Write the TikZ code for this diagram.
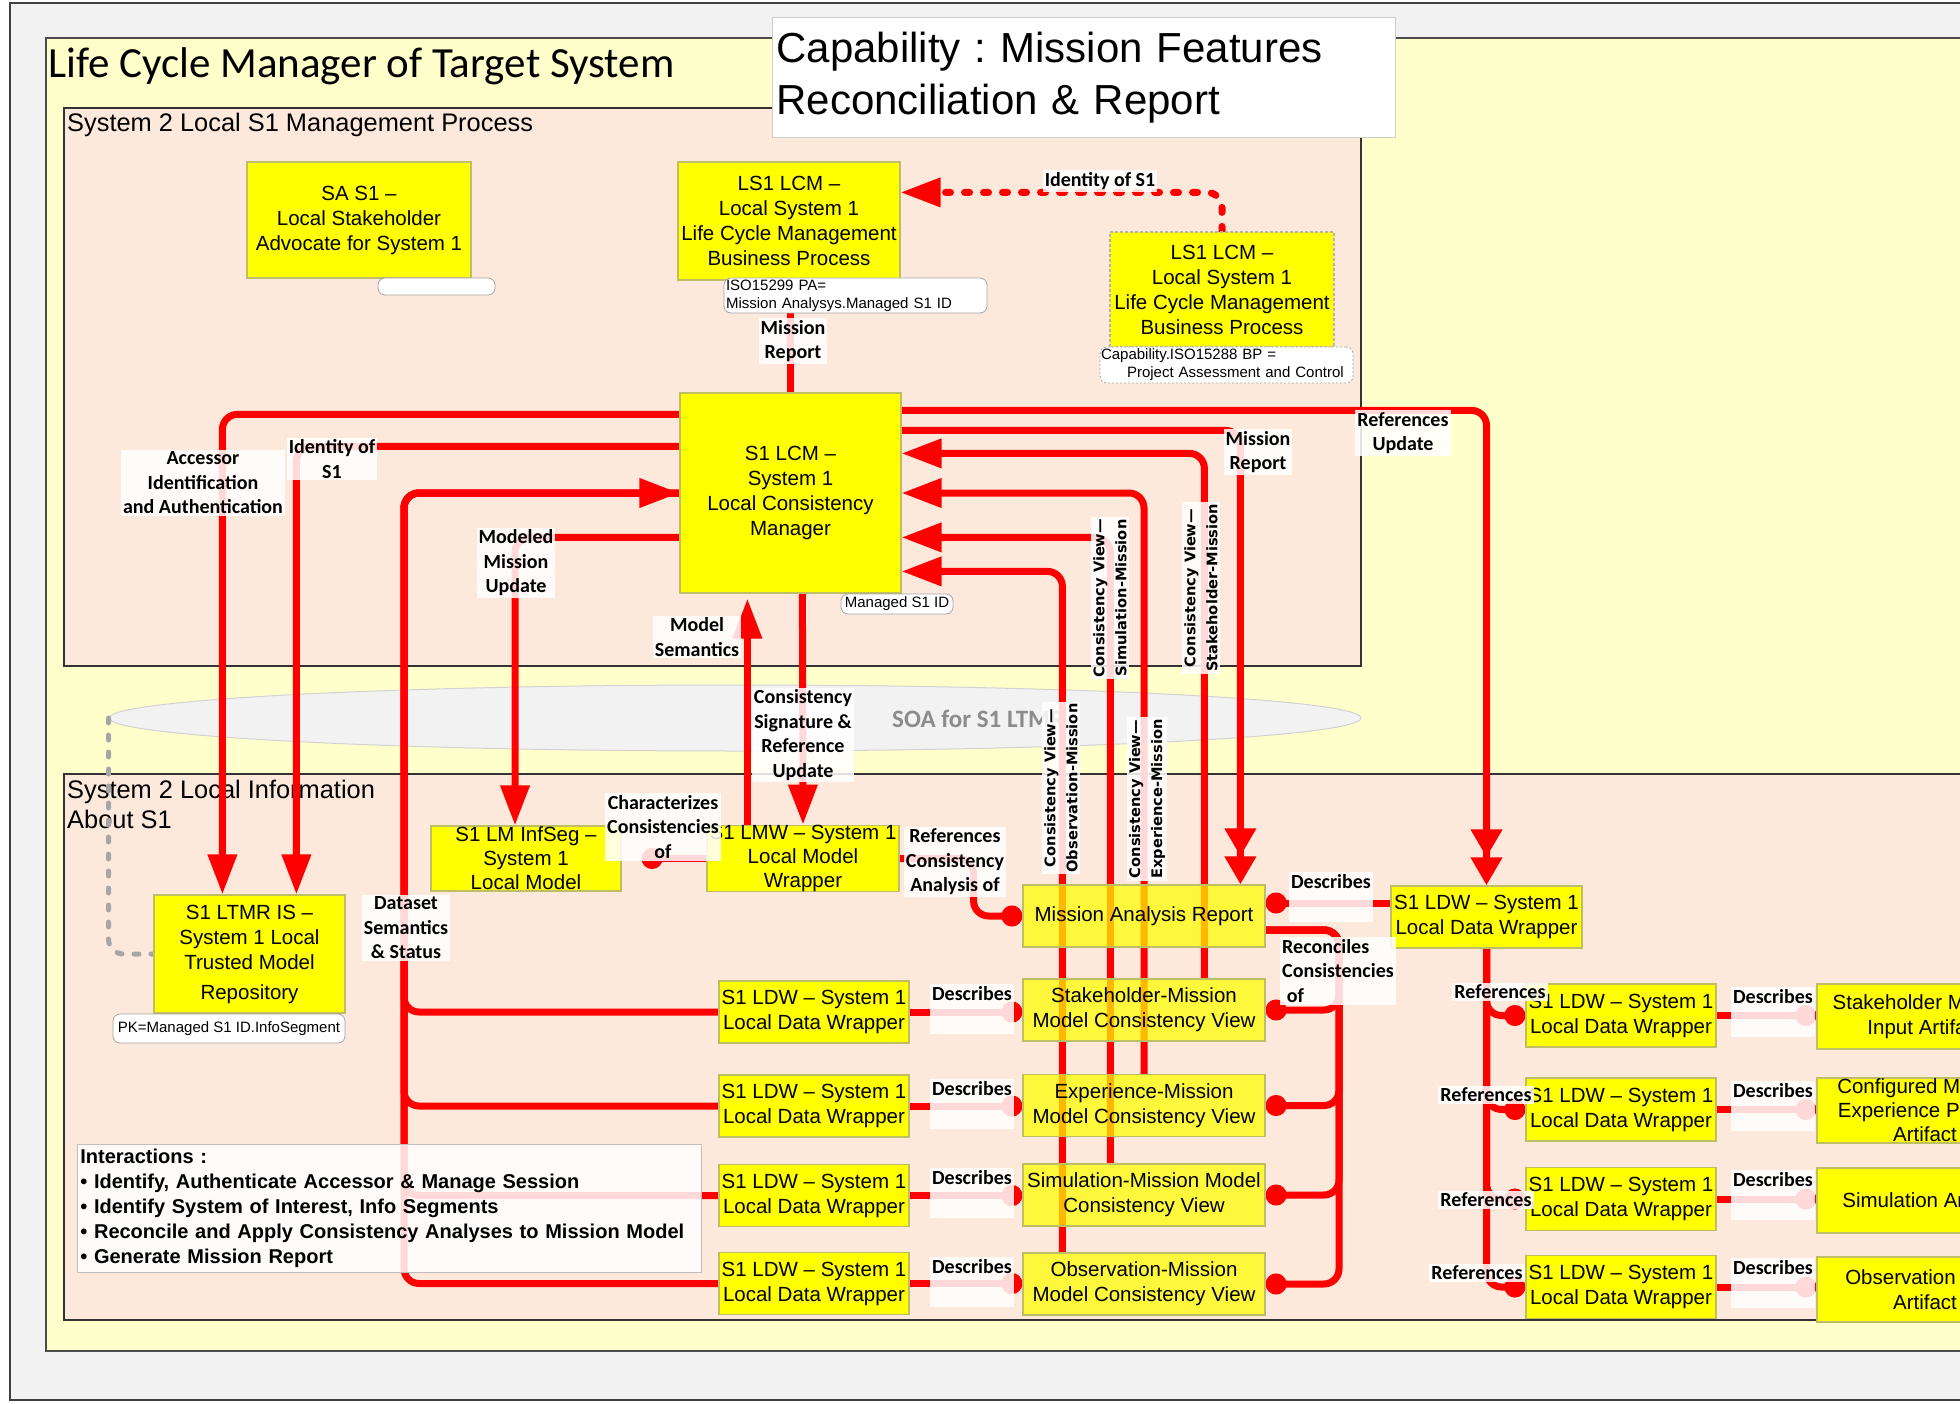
\documentclass[tikz,border=0pt]{standalone}
\usepackage{fontspec}
\setmainfont{Liberation Sans}
\newfontfamily\carl{Carlito}
\newfontfamily\dvs{DejaVu Sans}
\usetikzlibrary{arrows.meta,calc,shapes.geometric}
\frenchspacing
\definecolor{bggray}{RGB}{242,242,242}
\definecolor{frameY}{RGB}{255,255,204}
\definecolor{peach}{RGB}{252,233,220}
\definecolor{boxY}{RGB}{255,255,0}
\definecolor{boxB}{RGB}{190,190,100}
\definecolor{rd}{RGB}{255,0,0}
\definecolor{dashG}{RGB}{166,166,166}
\definecolor{soaT}{RGB}{140,140,140}
\pgfdeclarelayer{bg}\pgfdeclarelayer{lines}\pgfdeclarelayer{top}
\pgfsetlayers{bg,lines,main,top}
\newcommand\bxfont{\fontsize{20.5}{25}\selectfont}
\newcommand\bxfontt{\fontsize{20.5}{24}\selectfont}
\newcommand\lbfont{\carl\bfseries\fontsize{20}{24.5}\selectfont}
\newcommand\tgfont{\fontsize{15}{18}\selectfont}
\newcommand\vfont{\dvs\bfseries\fontsize{14.6}{22}\selectfont}
\newcommand\fitl[1]{\makebox[170pt]{#1}}
\tikzset{
  ybox/.style={draw=boxB, line width=1.2pt, fill=boxY, inner sep=0pt, align=center, font=\bxfont},
  vbox/.style={ybox, fill opacity=0.72, text opacity=1},
  lbl/.style={fill=white, fill opacity=0.85, text opacity=1, inner sep=2pt, align=center, font=\lbfont},
  desc/.style={lbl, anchor=north, minimum width=80pt},
  vlbl/.style={lbl, rotate=90, font=\vfont},
  tag/.style={draw=gray!70, line width=0.8pt, fill=white, rounded corners=7pt, inner sep=0pt, font=\tgfont, align=left},
  rl/.style={draw=rd, line width=7pt, rounded corners=15pt},
  arr/.style={-{Triangle[length=40pt,width=28pt]}},
  darr/.style={-{Triangle[length=28pt,width=30pt]Triangle[length=28pt,width=30pt]}},
  dotE/.style={-{Circle[length=21pt]}},
  dotS/.style={{Circle[length=21pt]}-},
  idd/.style={dash pattern=on 5pt off 14pt, line cap=round}
}
\begin{document}
\begin{tikzpicture}[x=1pt,y=-1pt]
\useasboundingbox (0,0) rectangle (1960,1404);
\begin{pgfonlayer}{bg}
\fill[white] (0,0) rectangle (1960,1404);
\draw[fill=bggray, draw=black!75, line width=1.5pt] (10,3) rectangle (1990,1400);
\draw[fill=frameY, draw=black!70, line width=2pt] (46,38) rectangle (1990,1351);
\node[anchor=base west, font=\carl\fontsize{43}{50}\selectfont, inner sep=0pt] (ttl) at (48,78) {Life Cycle Manager of Target System};
\draw[fill=peach, draw=black!80, line width=1.8pt] (64,108) rectangle (1361,666);
\node[anchor=base west, font=\fontsize{25.4}{30}\selectfont, inner sep=0pt] (t1) at (67,132) {System 2 Local S1 Management Process};
\draw[fill=peach, draw=black!80, line width=1.8pt] (64,774) rectangle (1990,1320);
\node[anchor=base west, font=\fontsize{25.4}{30}\selectfont, inner sep=0pt] (t2a) at (67,798) {System 2 Local Information};
\node[anchor=base west, font=\fontsize{25.4}{30}\selectfont, inner sep=0pt] (t2b) at (67,828) {About S1};
\node[ellipse, fill=bggray, draw=gray!35, line width=1pt, minimum width=1252pt, minimum height=66pt, inner sep=0pt] (soa) at (735,718) {};
\node[anchor=base west, font=\carl\bfseries\fontsize{25}{30}\selectfont, text=soaT, inner sep=0pt] (soat) at (892,727) {SOA for S1 LTMR};
\end{pgfonlayer}

% title box
\node[draw=gray!40, line width=1pt, fill=white, anchor=north west, minimum width=623pt, minimum height=120pt, text width=615pt, inner xsep=3pt, inner ysep=0pt, align=left, font=\fontsize{42}{52}\selectfont] (cap) at (772,17) {Capability : Mission Features\\Reconciliation \& Report};

% boxes
\node[ybox, minimum width=224pt, minimum height=116pt] (SA) at (359,220) {SA S1 –\\Local Stakeholder\\Advocate for System 1};
\node[ybox, minimum width=222pt, minimum height=118pt] (LS1top) at (789,221) {LS1 LCM –\\Local System 1\\Life Cycle Management\\Business Process};
\node[ybox, draw=gray!60, dash pattern=on 3pt off 2pt, minimum width=224pt, minimum height=115pt] (LS1R) at (1222,289.5) {LS1 LCM –\\Local System 1\\Life Cycle Management\\Business Process};
\node[ybox, minimum width=221pt, minimum height=200pt] (LCM) at (790.5,493) {S1 LCM –\\System 1\\Local Consistency\\Manager};
\node[ybox, minimum width=191pt, minimum height=118pt] (LTMR) at (249.5,954) {S1 LTMR IS –\\System 1 Local\\Trusted Model\\[5pt]Repository};
\node[ybox, font=\bxfontt, minimum width=190pt, minimum height=65pt] (InfSeg) at (526,858.5) {S1 LM InfSeg –\\System 1\\Local Model};
\node[ybox, font=\bxfontt, minimum width=192pt, minimum height=65pt] (LMW) at (803,858.5) {\fitl{S1 LMW – System 1}\\Local Model\\Wrapper};

\node[vbox, minimum width=242pt, minimum height=62pt] (MAR) at (1144,916) {Mission Analysis Report};
\node[vbox, minimum width=242pt, minimum height=62pt] (SV) at (1144,1010) {Stakeholder-Mission\\Model Consistency View};
\node[vbox, minimum width=242pt, minimum height=62pt] (EV) at (1144,1105.5) {Experience-Mission\\Model Consistency View};
\node[vbox, minimum width=242pt, minimum height=62pt] (SimV) at (1144,1195) {Simulation-Mission Model\\Consistency View};
\node[vbox, minimum width=242pt, minimum height=62pt] (OV) at (1144,1284) {Observation-Mission\\Model Consistency View};

\node[ybox, minimum width=190pt, minimum height=62pt] (LDWL1) at (814,1012) {\fitl{S1 LDW – System 1}\\\fitl{Local Data Wrapper}};
\node[ybox, minimum width=190pt, minimum height=62pt] (LDWL2) at (814,1106) {\fitl{S1 LDW – System 1}\\\fitl{Local Data Wrapper}};
\node[ybox, minimum width=190pt, minimum height=62pt] (LDWL3) at (814,1195.5) {\fitl{S1 LDW – System 1}\\\fitl{Local Data Wrapper}};
\node[ybox, minimum width=190pt, minimum height=62pt] (LDWL4) at (814,1283.5) {\fitl{S1 LDW – System 1}\\\fitl{Local Data Wrapper}};
\node[ybox, minimum width=191pt, minimum height=62pt] (LDWT) at (1486.5,917) {\fitl{S1 LDW – System 1}\\\fitl{Local Data Wrapper}};
\node[ybox, minimum width=190pt, minimum height=63pt] (LDWR1) at (1621,1015.5) {\fitl{S1 LDW – System 1}\\\fitl{Local Data Wrapper}};
\node[ybox, minimum width=190pt, minimum height=63pt] (LDWR2) at (1621,1109.5) {\fitl{S1 LDW – System 1}\\\fitl{Local Data Wrapper}};
\node[ybox, minimum width=190pt, minimum height=63pt] (LDWR3) at (1621,1199) {\fitl{S1 LDW – System 1}\\\fitl{Local Data Wrapper}};
\node[ybox, minimum width=190pt, minimum height=63pt] (LDWR4) at (1621,1287) {\fitl{S1 LDW – System 1}\\\fitl{Local Data Wrapper}};
\node[ybox, minimum width=216pt, minimum height=65pt] (Art1) at (1925,1016.5) {Stakeholder Mission\\Input Artifact};
\node[ybox, font=\bxfontt, minimum width=216pt, minimum height=65pt] (Art2) at (1925,1110.5) {Configured Mission\\Experience Pattern\\Artifact};
\node[ybox, minimum width=216pt, minimum height=65pt] (Art3) at (1925,1200.5) {Simulation Artifact};
\node[ybox, minimum width=216pt, minimum height=65pt] (Art4) at (1925,1289.5) {Observation Data\\Artifact};

% tags
\node[tag, minimum width=117pt, minimum height=17pt] (emptyTag) at (436.5,286.5) {};
\node[tag, minimum width=263pt, minimum height=35pt, text width=259pt, inner xsep=2pt] (isoTag) at (855.5,295.5) {ISO15299 PA=\\Mission Analysys.Managed S1 ID};
\node[tag, dash pattern=on 2pt off 2pt, minimum width=253pt, minimum height=36pt, text width=251pt, inner xsep=1pt] (capTag) at (1226.5,365) {Capability.ISO15288 BP =\\\hspace*{26pt}Project Assessment and Control};
\node[tag, minimum width=112pt, minimum height=20pt, align=center] (msTag) at (897,604) {Managed S1 ID};
\node[tag, minimum width=232pt, minimum height=29pt, align=center] (pkTag) at (229,1028.5) {PK=Managed S1 ID.InfoSegment};

% connectors
\begin{pgfonlayer}{lines}
\draw[rl] (LCM.north) -- (LCM.north |- isoTag.south);
\draw[rl, idd, arr] (LS1R.north) |- ([yshift=-31pt]LS1top.north east);
\draw[rl, arr] ([yshift=-22pt]LCM.north west) -| ([xshift=69pt]LTMR.north west);
\draw[rl, arr] ([yshift=-54pt]LCM.north west) -| ([xshift=143pt]LTMR.north west);
\coordinate (busD) at (404,493);
\foreach \n in {LDWL2,LDWL3,LDWL4} \draw[rl] (\n.west) -| (busD) -- (LCM.west);
\draw[rl, arr] (LDWL1.west) -| (busD) -- (LCM.west);
\draw[rl, arr] ([yshift=-145pt]LCM.north west) -| ([xshift=-11pt]InfSeg.north);
\draw[rl, arr] ([xshift=41pt]LMW.north west) -- ([xshift=68pt,yshift=-5pt]LCM.south west);
\draw[rl, arr] ([xshift=123pt]LCM.south west) -- (LMW.north);
\draw[rl, darr] ([yshift=-18pt]LCM.north east) -| (LDWT.north);
\draw[rl, darr] ([yshift=-38pt]LCM.north east) -| ([xshift=218pt]MAR.north west);
\draw[rl, arr] ([xshift=182pt]SV.north west) |- ([yshift=-61pt]LCM.north east);
\draw[rl, arr] (EV.north) |- (LCM.east);
\draw[rl, arr] ([xshift=88pt]SimV.north west) |- ([yshift=-145pt]LCM.north east);
\draw[rl, arr] ([xshift=40pt]OV.north west) |- ([yshift=-179pt]LCM.north east);
\draw[rl, dotE] (LMW.west) -- ([xshift=20pt]InfSeg.east);
\draw[rl, dotE] (LMW.east) -- ++(74,0) |- (MAR.west);
\draw[rl, dotE] ([yshift=14pt]LDWT.west) -- ([yshift=13pt]MAR.east);
\coordinate (busR) at (1339,930);
\foreach \v in {SV,EV,SimV,OV} \draw[rl, dotS] (\v.east) -| (busR) -- ([yshift=-14pt]MAR.east);
\foreach \a/\b in {LDWL1/SV,LDWL2/EV,LDWL3/SimV,LDWL4/OV} \draw[rl, dotE] (\a.east) -- (\a.east -| \b.west);
\foreach \i in {1,2,3,4} \draw[rl, dotE] (LDWT.south) |- (LDWR\i.west);
\foreach \i in {1,2,3,4} \draw[rl, dotE] (LDWR\i.east) -- (LDWR\i.east -| Art\i.west);
\draw[dashG, line width=5pt, dash pattern=on 5pt off 12pt, line cap=round, rounded corners=15pt] (soa.west) |- (LTMR.west);
\end{pgfonlayer}

% labels
\begin{pgfonlayer}{top}
\node[lbl] (lIdTop) at (1100,181) {Identity of S1};
\node[lbl] (lMrTop) at (793,341) {Mission\\Report};
\node[lbl] (lAcc) at (203,483) {Accessor\\Identification\\and Authentication};
\node[lbl] (lId) at (332,459) {Identity of\\S1};
\node[lbl] (lMod) at (516,563) {Modeled\\Mission\\Update};
\node[lbl] (lSem) at (697,637) {Model\\Semantics};
\node[lbl] (lSig) at (803,735) {Consistency\\Signature \&\\Reference\\Update};
\node[lbl] (lMrR) at (1258,452) {Mission\\Report};
\node[lbl] (lRefU) at (1403,433) {References\\Update};
\node[lbl] (lChar) at (663,827) {Characterizes\\Consistencies\\of};
\node[lbl] (lRefC) at (955,862) {References\\Consistency\\Analysis of};
\node[lbl] (lData) at (406,928) {Dataset\\Semantics\\\& Status};
\node[lbl, align=left] (lRec) at (1338,971) {Reconciles\\Consistencies\\\ of};
\node[desc] (dT) at (1331,872) {Describes\\\strut};
\node[desc] (dL1) at (972,984) {Describes\\\strut};
\node[desc] (dL2) at (972,1079) {Describes\\\strut};
\node[desc] (dL3) at (972,1168) {Describes\\\strut};
\node[desc] (dL4) at (972,1257) {Describes\\\strut};
\node[desc] (dR1) at (1773,987) {Describes\\\strut};
\node[desc] (dR2) at (1773,1081) {Describes\\\strut};
\node[desc] (dR3) at (1773,1170) {Describes\\\strut};
\node[desc] (dR4) at (1773,1258) {Describes\\\strut};
\node[lbl] (rR1) at (1500,992) {References};
\node[lbl] (rR2) at (1486,1095) {References};
\node[lbl] (rR3) at (1486,1200) {References};
\node[lbl] (rR4) at (1477,1273) {References};
\node[vlbl] (vStk) at (1201,588) {Consistency View—\\Stakeholder-Mission};
\node[vlbl] (vSim) at (1110,598) {Consistency View—\\Simulation-Mission};
\node[vlbl] (vObs) at (1061,788) {Consistency View—\\Observation-Mission};
\node[vlbl] (vExp) at (1147,799) {Consistency View—\\Experience-Mission};
\node[draw=gray!50, line width=0.8pt, fill=white, fill opacity=0.85, text opacity=1, anchor=north west, minimum width=624pt, minimum height=128pt, text width=618pt, inner xsep=3pt, inner ysep=0pt, align=left, font=\bfseries\fontsize{20}{25}\selectfont] (inter) at (77,1144) {Interactions :\\• Identify, Authenticate Accessor \& Manage Session\\• Identify System of Interest, Info Segments\\• Reconcile and Apply Consistency Analyses to Mission Model\\• Generate Mission Report};
\end{pgfonlayer}
\end{tikzpicture}
\end{document}
